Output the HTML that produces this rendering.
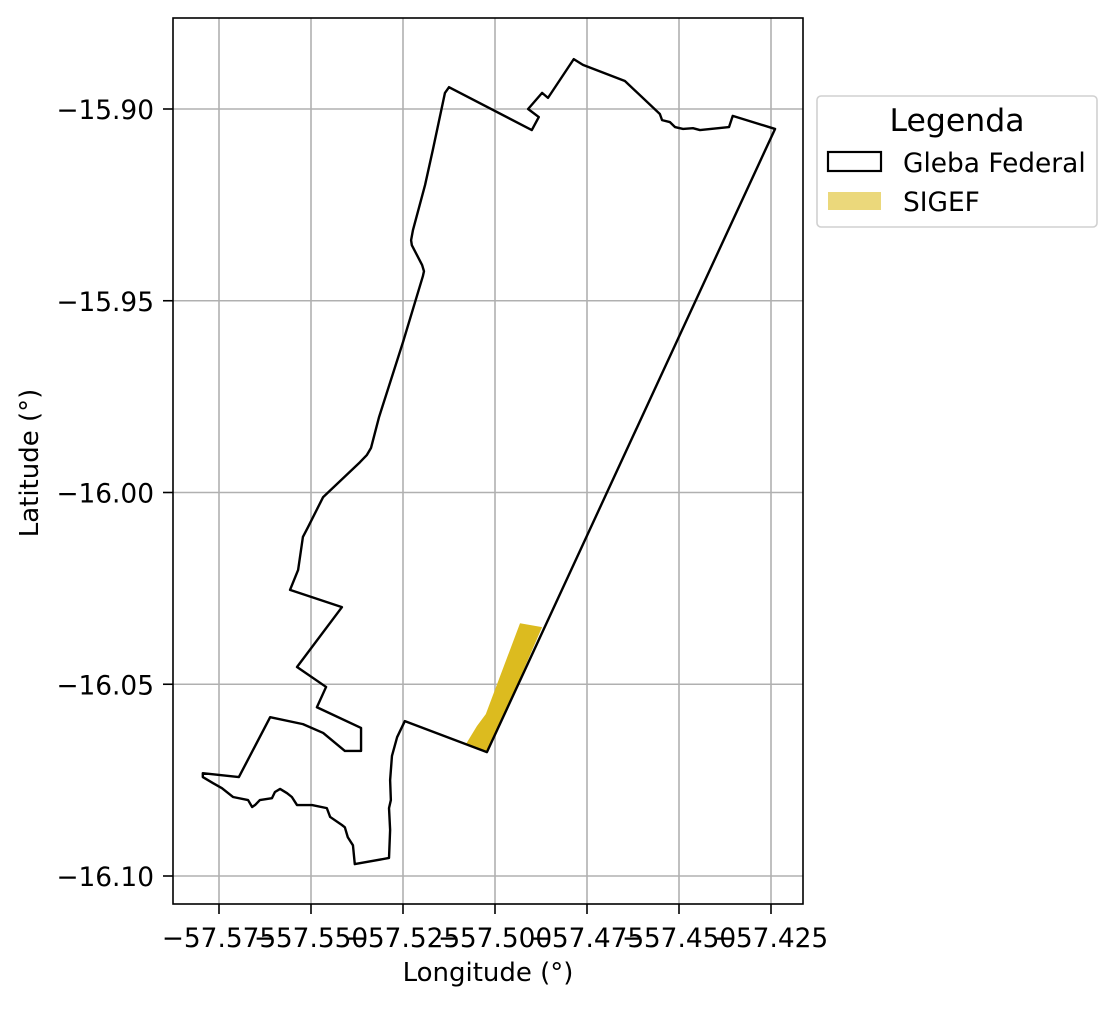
<!DOCTYPE html>
<html><head><meta charset="utf-8"><style>
body{margin:0;background:#fff;font-family:"DejaVu Sans","Liberation Sans",sans-serif;}
</style></head><body>
<svg id="chart" width="1116" height="1006" xmlns="http://www.w3.org/2000/svg" font-family="DejaVu Sans, Liberation Sans, sans-serif">
<rect width="1116" height="1006" fill="#fff"/>
<g id="grid"></g>
<g id="marks"></g>
<rect x="173" y="18" width="630" height="886" fill="none" stroke="#000" stroke-width="1.6"/>
<g id="ticks"></g>
<text x="488" y="981" font-size="26" text-anchor="middle">Longitude (°)</text>
<text transform="translate(38,463) rotate(-90)" font-size="26" text-anchor="middle">Latitude (°)</text>
<g>
<rect x="817" y="96" width="280" height="131" rx="4" fill="#fff" stroke="#d0d0d0" stroke-width="1.6"/>
<text x="957" y="131" font-size="31.5" text-anchor="middle">Legenda</text>
<rect x="828" y="152" width="53" height="19" fill="none" stroke="#000" stroke-width="2.2"/>
<text x="903" y="172" font-size="26.4">Gleba Federal</text>
<rect x="828" y="192" width="53" height="18" fill="#ebd87b"/>
<text x="903" y="211" font-size="26.4">SIGEF</text>
</g>
</svg>
<script>
const xTicks=[-57.575,-57.55,-57.525,-57.5,-57.475,-57.45,-57.425];
const xTickLabels=["\u221257.575","\u221257.550","\u221257.525","\u221257.500","\u221257.475","\u221257.450","\u221257.425"];
const yTicks=[-15.90,-15.95,-16.00,-16.05,-16.10];
const yTickLabels=["\u221215.90","\u221215.95","\u221216.00","\u221216.05","\u221216.10"];
const glebaLon=[-57.5125,-57.4900,-57.4881,-57.4910,-57.4872,-57.4856,-57.4786,-57.4761,-57.4647,-57.4552,-57.4546,-57.4525,-57.4511,-57.4489,-57.4462,-57.4443,-57.4364,-57.4354,-57.4239,-57.5022,-57.5245,-57.5266,-57.5280,-57.5285,-57.5283,-57.5288,-57.5285,-57.5288,-57.5381,-57.5386,-57.5400,-57.5408,-57.5416,-57.5448,-57.5457,-57.5497,-57.5538,-57.5552,-57.5565,-57.5584,-57.5598,-57.5606,-57.5639,-57.5652,-57.5660,-57.5671,-57.5712,-57.5742,-57.5766,-57.5794,-57.5794,-57.5696,-57.5611,-57.5522,-57.5467,-57.5408,-57.5364,-57.5364,-57.5484,-57.5459,-57.5538,-57.5416,-57.5557,-57.5535,-57.5522,-57.5508,-57.5467,-57.5367,-57.5348,-57.5337,-57.5315,-57.5250,-57.5196,-57.5193,-57.5198,-57.5226,-57.5228,-57.5223,-57.5190,-57.5169,-57.5136];
const glebaLat=[-15.8943,-15.9055,-15.9021,-15.9000,-15.8958,-15.8971,-15.8870,-15.8885,-15.8927,-15.9013,-15.9029,-15.9034,-15.9047,-15.9052,-15.9050,-15.9055,-15.9047,-15.9018,-15.9052,-16.0677,-16.0596,-16.0638,-16.0687,-16.0750,-16.0802,-16.0823,-16.0880,-16.0953,-16.0969,-16.0920,-16.0899,-16.0873,-16.0867,-16.0846,-16.0823,-16.0815,-16.0815,-16.0794,-16.0784,-16.0773,-16.0781,-16.0797,-16.0802,-16.0815,-16.0820,-16.0802,-16.0794,-16.0771,-16.0758,-16.0742,-16.0732,-16.0742,-16.0586,-16.0604,-16.0627,-16.0674,-16.0674,-16.0614,-16.0560,-16.0507,-16.0455,-16.0299,-16.0254,-16.0202,-16.0116,-16.0090,-16.0012,-15.9921,-15.9902,-15.9884,-15.9803,-15.9608,-15.9436,-15.9423,-15.9407,-15.9355,-15.9342,-15.9316,-15.9198,-15.9107,-15.8958];
const sigefLon=[-57.5079,-57.5049,-57.5025,-57.4932,-57.4872,-57.5019,-57.5035];
const sigefLat=[-16.0656,-16.0609,-16.0578,-16.0341,-16.0351,-16.0677,-16.0672];

const NS="http://www.w3.org/2000/svg";
const X0=173,X1=803,Y0=18,Y1=904;
function xs(v){return 219+(v+57.575)*3680;}
function ys(v){return 109+(-15.9-v)*3835;}
function mk(tag,attrs,parent){const e=document.createElementNS(NS,tag);for(const k in attrs)e.setAttribute(k,attrs[k]);parent.appendChild(e);return e;}
const grid=document.getElementById('grid'),ticks=document.getElementById('ticks'),marks=document.getElementById('marks');
xTicks.forEach((t,i)=>{const x=xs(t);
 const g=mk('line',{x1:x,x2:x,y1:Y0,y2:Y1,stroke:'#b0b0b0','stroke-width':1.6},grid);
 
 
 const tk=mk('line',{x1:x,x2:x,y1:Y1,y2:Y1+10,stroke:'#000','stroke-width':1.6},ticks);
 
 
 const tl=mk('text',{x:x,y:Y1+43,'font-size':26.4,'text-anchor':'middle'},ticks);tl.textContent=xTickLabels[i];
 
 
});
yTicks.forEach((t,i)=>{const y=ys(t);
 const g=mk('line',{x1:X0,x2:X1,y1:y,y2:y,stroke:'#b0b0b0','stroke-width':1.6},grid);
 
 
 const tk=mk('line',{x1:X0-10,x2:X0,y1:y,y2:y,stroke:'#000','stroke-width':1.6},ticks);
 
 
 const tl=mk('text',{x:X0-19,y:y+10,'font-size':26.4,'text-anchor':'end'},ticks);tl.textContent=yTickLabels[i];
 
 
});
const sp=mk('polygon',{points:sigefLon.map((v,i)=>xs(v)+','+ys(sigefLat[i])).join(' '),fill:'#dcbb1f'},marks);


const gp=mk('polygon',{points:glebaLon.map((v,i)=>xs(v)+','+ys(glebaLat[i])).join(' '),fill:'none',stroke:'#000','stroke-width':2.4,'stroke-linejoin':'round'},marks);


</script>
</body></html>
